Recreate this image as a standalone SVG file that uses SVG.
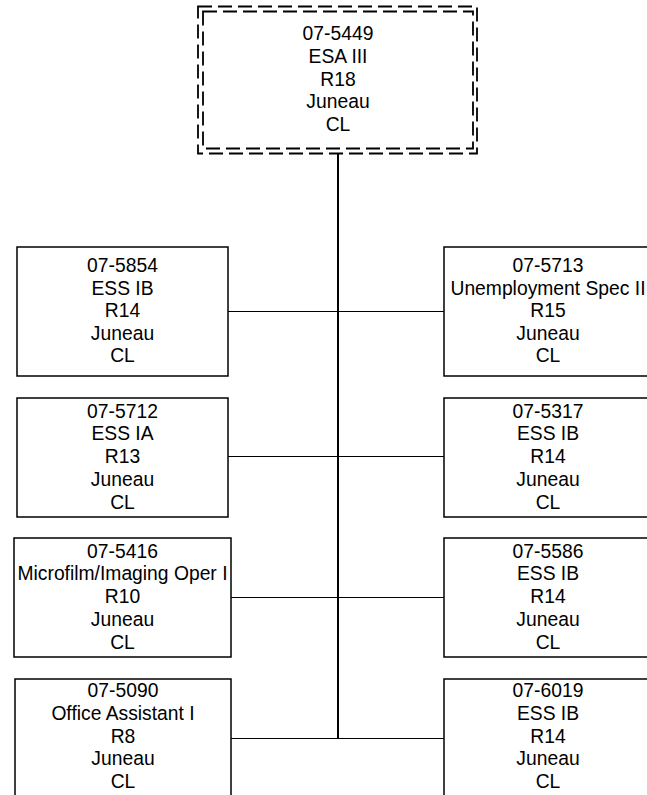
<svg xmlns="http://www.w3.org/2000/svg" width="647" height="795" viewBox="0 0 647 795">
<style>
text{font-family:"Liberation Sans",Arial,sans-serif;font-size:19.3px;fill:#000;text-anchor:middle}
.box{fill:#fff;stroke:#000;stroke-width:1.5}
.dash{fill:none;stroke:#000;stroke-width:1.8;stroke-dasharray:14 6}
.trunk{stroke:#000;stroke-width:2;fill:none}
.branch{stroke:#000;stroke-width:1;fill:none}
</style>
<rect width="647" height="795" fill="#fff"/>
<g id="connectors">
<line class="trunk" x1="338" y1="153" x2="338" y2="738"/>
<line class="branch" x1="228" y1="311.5" x2="444" y2="311.5"/>
<line class="branch" x1="228" y1="456.5" x2="444" y2="456.5"/>
<line class="branch" x1="231" y1="597.5" x2="444" y2="597.5"/>
<line class="branch" x1="231" y1="738.5" x2="444" y2="738.5"/>
</g>
<g id="n5449">
<rect x="198" y="6.5" width="279" height="147" fill="#fff"/>
<rect class="dash" x="198" y="6.5" width="279" height="147"/>
<rect class="dash" x="203" y="11.5" width="270" height="137"/>
<text x="338" y="39.5">07-5449</text>
<text x="338" y="62.5">ESA III</text>
<text x="338" y="85.5">R18</text>
<text x="338" y="108">Juneau</text>
<text x="338" y="131">CL</text>
</g>
<g id="n5854">
<rect class="box" x="17" y="247" width="211" height="129"/>
<text x="122.5" y="272">07-5854</text>
<text x="122.5" y="294.5">ESS IB</text>
<text x="122.5" y="317">R14</text>
<text x="122.5" y="339.5">Juneau</text>
<text x="122.5" y="362">CL</text>
</g>
<g id="n5713">
<rect class="box" x="444" y="247" width="208" height="129"/>
<text x="548" y="272">07-5713</text>
<text x="548" y="294.5">Unemployment Spec II</text>
<text x="548" y="317">R15</text>
<text x="548" y="339.5">Juneau</text>
<text x="548" y="362">CL</text>
</g>
<g id="n5712">
<rect class="box" x="17" y="398" width="211" height="119"/>
<text x="122.5" y="417.5">07-5712</text>
<text x="122.5" y="440">ESS IA</text>
<text x="122.5" y="463">R13</text>
<text x="122.5" y="485.5">Juneau</text>
<text x="122.5" y="508.5">CL</text>
</g>
<g id="n5317">
<rect class="box" x="444" y="398" width="208" height="119"/>
<text x="548" y="417.5">07-5317</text>
<text x="548" y="440">ESS IB</text>
<text x="548" y="463">R14</text>
<text x="548" y="485.5">Juneau</text>
<text x="548" y="508.5">CL</text>
</g>
<g id="n5416">
<rect class="box" x="14" y="538" width="217" height="119"/>
<text x="122.5" y="557.5">07-5416</text>
<text x="122.5" y="580">Microfilm/Imaging Oper I</text>
<text x="122.5" y="603">R10</text>
<text x="122.5" y="625.5">Juneau</text>
<text x="122.5" y="648.5">CL</text>
</g>
<g id="n5586">
<rect class="box" x="444" y="538" width="208" height="119"/>
<text x="548" y="557.5">07-5586</text>
<text x="548" y="580">ESS IB</text>
<text x="548" y="603">R14</text>
<text x="548" y="625.5">Juneau</text>
<text x="548" y="648.5">CL</text>
</g>
<g id="n5090">
<rect class="box" x="15" y="679" width="216" height="130"/>
<text x="123" y="697">07-5090</text>
<text x="123" y="719.5">Office Assistant I</text>
<text x="123" y="742.5">R8</text>
<text x="123" y="765">Juneau</text>
<text x="123" y="788">CL</text>
</g>
<g id="n6019">
<rect class="box" x="444" y="679" width="208" height="130"/>
<text x="548" y="697">07-6019</text>
<text x="548" y="719.5">ESS IB</text>
<text x="548" y="742.5">R14</text>
<text x="548" y="765">Juneau</text>
<text x="548" y="788">CL</text>
</g>
</svg>
